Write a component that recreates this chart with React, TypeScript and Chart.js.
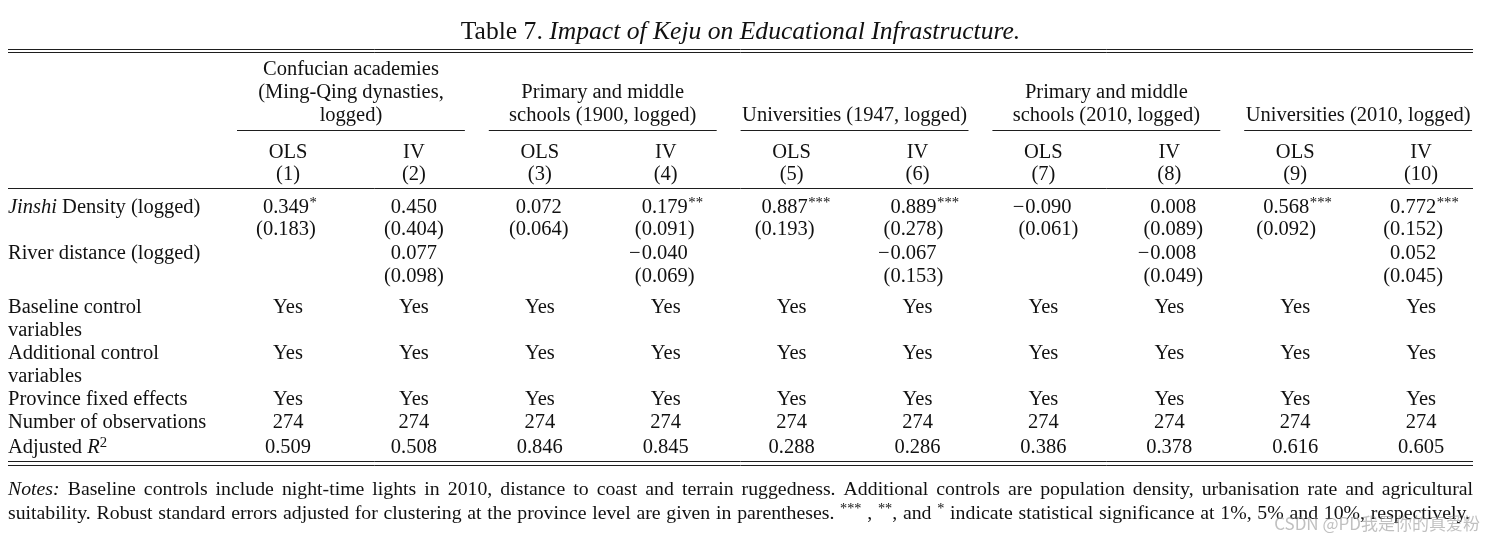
import React, { useEffect, useRef } from 'react';
import { Chart, registerables } from 'chart.js';

Chart.register(...registerables);

// ---------------- data ----------------
const titleNumber = 'Table 7. ';
const titleText = 'Impact of Keju on Educational Infrastructure.';

const groupHeaders: string[][] = [
  ['Confucian academies', '(Ming-Qing dynasties,', 'logged)'],
  ['Primary and middle', 'schools (1900, logged)'],
  ['Universities (1947, logged)'],
  ['Primary and middle', 'schools (2010, logged)'],
  ['Universities (2010, logged)'],
];
const estimators = ['OLS', 'IV', 'OLS', 'IV', 'OLS', 'IV', 'OLS', 'IV', 'OLS', 'IV'];
const modelNumbers = ['(1)', '(2)', '(3)', '(4)', '(5)', '(6)', '(7)', '(8)', '(9)', '(10)'];

const jinshiCoef = [0.349, 0.45, 0.072, 0.179, 0.887, 0.889, -0.09, 0.008, 0.568, 0.772];
const jinshiStars = ['*', '', '', '**', '***', '***', '', '', '***', '***'];
const jinshiSE = [0.183, 0.404, 0.064, 0.091, 0.193, 0.278, 0.061, 0.089, 0.092, 0.152];
const riverCoef = [null, 0.077, null, -0.04, null, -0.067, null, -0.008, null, 0.052];
const riverSE = [null, 0.098, null, 0.069, null, 0.153, null, 0.049, null, 0.045];
const baselineControls = ['Yes', 'Yes', 'Yes', 'Yes', 'Yes', 'Yes', 'Yes', 'Yes', 'Yes', 'Yes'];
const additionalControls = ['Yes', 'Yes', 'Yes', 'Yes', 'Yes', 'Yes', 'Yes', 'Yes', 'Yes', 'Yes'];
const provinceFixedEffects = ['Yes', 'Yes', 'Yes', 'Yes', 'Yes', 'Yes', 'Yes', 'Yes', 'Yes', 'Yes'];
const observations = [274, 274, 274, 274, 274, 274, 274, 274, 274, 274];
const adjustedR2 = [0.509, 0.508, 0.846, 0.845, 0.288, 0.286, 0.386, 0.378, 0.616, 0.605];

const notesLine1 =
  ' Baseline controls include night-time lights in 2010, distance to coast and terrain ruggedness. Additional controls are population density, urbanisation rate and agricultural';
const notesLine2a =
  'suitability. Robust standard errors adjusted for clustering at the province level are given in parentheses. ';
const notesLine2b = ' indicate statistical significance at 1%, 5% and 10%, respectively.';
const watermark = 'CSDN @PD我是你的真爱粉';

// ---------------- layout ----------------
const SERIF = '"Liberation Serif", "Times New Roman", Times, serif';
const INK = '#111';
const BODY = 20.5;
const TITLE = 25.6;
const NOTE = 19.8;
const TEXT_DY = 2;
const PX_PER_LINE = 23;
// small decimal-alignment shifts of the numeric columns (px)
const NUM_DX = [-2, 0, -1, -1, -7, -4, 5, 4, -9, -8];
const Y = {
  title: -1.65,
  topRule1: -0.83,
  topRule2: -0.69,
  groupRule: 2.7,
  estimator: 3.61,
  modelNo: 4.565,
  midRule: 5.22,
  jinshi: 6.0,
  jinshiSE: 6.957,
  river: 8.0,
  riverSE: 9.0,
  baseline: 10.35,
  additional: 12.35,
  province: 14.35,
  obs: 15.35,
  r2: 16.43,
  botRule1: 17.09,
  botRule2: 17.26,
  note1: 18.26,
  note2: 19.3,
  wm: 19.7,
};
const GROUP_HALF = 0.905;

type Run = { t: string; italic?: boolean; sup?: boolean };

function fontFor(r: Run, size: number) {
  return `${r.italic ? 'italic ' : ''}${r.sup ? size * 0.72 : size}px ${SERIF}`;
}
function runsWidth(ctx: CanvasRenderingContext2D, runs: Run[], size: number) {
  let w = 0;
  for (const r of runs) {
    ctx.font = fontFor(r, size);
    w += ctx.measureText(r.t).width;
  }
  return w;
}
function drawRuns(
  ctx: CanvasRenderingContext2D,
  runs: Run[],
  x: number,
  y: number,
  size: number,
  align: 'left' | 'center' | 'right'
) {
  const w = runsWidth(ctx, runs, size);
  let cx = align === 'center' ? x - w / 2 : align === 'right' ? x - w : x;
  ctx.textAlign = 'left';
  for (const r of runs) {
    ctx.font = fontFor(r, size);
    ctx.fillText(r.t, cx, (r.sup ? y - size * 0.22 : y) + TEXT_DY);
    cx += ctx.measureText(r.t).width;
  }
}
function drawJustified(
  ctx: CanvasRenderingContext2D,
  runs: Run[],
  x0: number,
  x1: number,
  y: number,
  size: number
) {
  const words: Run[][] = [];
  let cur: Run[] = [];
  for (const r of runs) {
    const parts = r.t.split(' ');
    parts.forEach((p, k) => {
      if (k > 0 && cur.length) {
        words.push(cur);
        cur = [];
      }
      if (p) cur.push({ ...r, t: p });
    });
  }
  if (cur.length) words.push(cur);
  const widths = words.map((w) => runsWidth(ctx, w, size));
  const total = widths.reduce((a, b) => a + b, 0);
  const gap = (x1 - x0 - total) / Math.max(1, words.length - 1);
  let x = x0;
  words.forEach((w, i) => {
    drawRuns(ctx, w, x, y, size, 'left');
    x += widths[i] + gap;
  });
}
function hline(ctx: CanvasRenderingContext2D, x0: number, x1: number, y: number) {
  ctx.beginPath();
  ctx.moveTo(x0, Math.round(y) + 0.5);
  ctx.lineTo(x1, Math.round(y) + 0.5);
  ctx.stroke();
}

const rowLabels: { y: number; lines: Run[][] }[] = [
  { y: Y.jinshi, lines: [[{ t: 'Jinshi', italic: true }, { t: ' Density (logged)' }]] },
  { y: Y.river, lines: [[{ t: 'River distance (logged)' }]] },
  { y: Y.baseline, lines: [[{ t: 'Baseline control' }], [{ t: 'variables' }]] },
  { y: Y.additional, lines: [[{ t: 'Additional control' }], [{ t: 'variables' }]] },
  { y: Y.province, lines: [[{ t: 'Province fixed effects' }]] },
  { y: Y.obs, lines: [[{ t: 'Number of observations' }]] },
  { y: Y.r2, lines: [[{ t: 'Adjusted ' }, { t: 'R', italic: true }, { t: '2', sup: true }]] },
];

type Kind = 'text' | 'coef' | 'se';
function rowDataset(label: string, kind: Kind, y: number, values: (number | string | null)[], stars?: string[]) {
  const data: any[] = [];
  values.forEach((v, i) => {
    if (v === null) return;
    data.push({ x: i + 1, y, v, s: stars ? stars[i] : '', col: i });
  });
  return { label, data, kind, pointRadius: 0, showLine: false } as any;
}

const tablePlugin = {
  id: 'tableText',
  afterDatasetsDraw(chart: any) {
    const ctx: CanvasRenderingContext2D = chart.ctx;
    const xs = chart.scales.x;
    const ys = chart.scales.y;
    const area = chart.chartArea;
    ctx.save();
    ctx.fillStyle = INK;
    ctx.strokeStyle = '#1e1e1e';
    ctx.lineWidth = 1;
    ctx.textBaseline = 'middle';

    // title
    drawRuns(
      ctx,
      [{ t: titleNumber }, { t: titleText, italic: true }],
      (area.left + area.right) / 2,
      ys.getPixelForValue(Y.title),
      TITLE,
      'center'
    );

    // rules
    [Y.topRule1, Y.topRule2, Y.midRule, Y.botRule1, Y.botRule2].forEach((v) =>
      hline(ctx, area.left, area.right, ys.getPixelForValue(v))
    );

    // group headers
    groupHeaders.forEach((lines, g) => {
      const c = 2 * g + 1.5;
      const cx = xs.getPixelForValue(c);
      lines.forEach((ln, k) => {
        const lineIdx = 3 - lines.length + k;
        drawRuns(ctx, [{ t: ln }], cx, ys.getPixelForValue(lineIdx), BODY, 'center');
      });
      hline(ctx, xs.getPixelForValue(c - GROUP_HALF), xs.getPixelForValue(c + GROUP_HALF), ys.getPixelForValue(Y.groupRule));
    });

    // row labels
    rowLabels.forEach((rl) => {
      rl.lines.forEach((ln, k) => {
        drawRuns(ctx, ln, area.left, ys.getPixelForValue(rl.y + k), BODY, 'left');
      });
    });

    // cells
    chart.data.datasets.forEach((ds: any, di: number) => {
      const meta = chart.getDatasetMeta(di);
      meta.data.forEach((pt: any, j: number) => {
        const d = ds.data[j];
        const y = pt.y;
        if (ds.kind === 'text') {
          drawRuns(ctx, [{ t: String(d.v) }], pt.x, y, BODY, 'center');
        } else if (ds.kind === 'se') {
          const x = pt.x + NUM_DX[d.col];
          drawRuns(ctx, [{ t: `(${Number(d.v).toFixed(3)})` }], x, y, BODY, 'center');
        } else {
          const x = pt.x + NUM_DX[d.col];
          const v = Number(d.v);
          const num = Math.abs(v).toFixed(3);
          ctx.font = fontFor({ t: num }, BODY);
          const w = ctx.measureText(num).width;
          drawRuns(ctx, [{ t: num }], x, y, BODY, 'center');
          if (v < 0) drawRuns(ctx, [{ t: '\u2212' }], x - w / 2 - 1, y, BODY, 'right');
          if (d.s) drawRuns(ctx, [{ t: d.s, sup: true }], x + w / 2 + 0.5, y, BODY, 'left');
        }
      });
    });

    // notes
    drawJustified(
      ctx,
      [{ t: 'Notes:', italic: true }, { t: notesLine1 }],
      area.left,
      area.right,
      ys.getPixelForValue(Y.note1),
      NOTE
    );
    drawJustified(
      ctx,
      [
        { t: notesLine2a },
        { t: '***', sup: true },
        { t: ' , ' },
        { t: '**', sup: true },
        { t: ', and ' },
        { t: '*', sup: true },
        { t: notesLine2b },
      ],
      area.left,
      area.right - 3,
      ys.getPixelForValue(Y.note2),
      NOTE
    );

    // watermark
    ctx.font = `17px "Noto Sans CJK SC", "Noto Sans", sans-serif`;
    ctx.fillStyle = 'rgba(150,150,150,0.6)';
    ctx.textAlign = 'right';
    ctx.fillText(watermark, area.right + 7, ys.getPixelForValue(Y.wm) + TEXT_DY);
    ctx.restore();
  },
};

export default function App() {
  const ref = useRef<HTMLCanvasElement | null>(null);
  useEffect(() => {
    if (!ref.current) return;
    const colStep = 125.9;
    const firstCol = 288;
    const left = 8;
    const right = 1473;
    const xMin = 1 - (firstCol - left) / colStep;
    const xMax = 10 + (right - (firstCol + 9 * colStep)) / colStep;
    const yMin = -68 / PX_PER_LINE;
    const yMax = (545 - 68) / PX_PER_LINE;
    const datasets = [
      rowDataset('Jinshi Density', 'coef', Y.jinshi, jinshiCoef, jinshiStars),
      rowDataset('Jinshi SE', 'se', Y.jinshiSE, jinshiSE),
      rowDataset('River distance', 'coef', Y.river, riverCoef),
      rowDataset('River SE', 'se', Y.riverSE, riverSE),
      rowDataset('Estimator', 'text', Y.estimator, estimators),
      rowDataset('Model', 'text', Y.modelNo, modelNumbers),
      rowDataset('Baseline', 'text', Y.baseline, baselineControls),
      rowDataset('Additional', 'text', Y.additional, additionalControls),
      rowDataset('Province FE', 'text', Y.province, provinceFixedEffects),
      rowDataset('Observations', 'text', Y.obs, observations),
      rowDataset('Adjusted R2', 'text', Y.r2, adjustedR2.map((v) => v.toFixed(3))),
    ];
    const chart = new Chart(ref.current, {
      type: 'scatter',
      data: { datasets },
      options: {
        responsive: false,
        animation: false,
        devicePixelRatio: 1,
        events: [],
        layout: { padding: { left, right: 1496 - right, top: 0, bottom: 0 } },
        scales: {
          x: { type: 'linear', min: xMin, max: xMax, display: false },
          y: { type: 'linear', min: yMin, max: yMax, reverse: true, display: false },
        },
        plugins: { legend: { display: false }, tooltip: { enabled: false }, title: { display: false } },
        elements: { point: { radius: 0, hoverRadius: 0 } },
      },
      plugins: [tablePlugin],
    } as any);
    return () => chart.destroy();
  }, []);
  return (
    <div style={{ position: 'absolute', left: 0, top: 0, width: 1496, height: 545, background: '#fff' }}>
      <canvas ref={ref} width={1496} height={545} style={{ display: 'block' }} />
    </div>
  );
}
